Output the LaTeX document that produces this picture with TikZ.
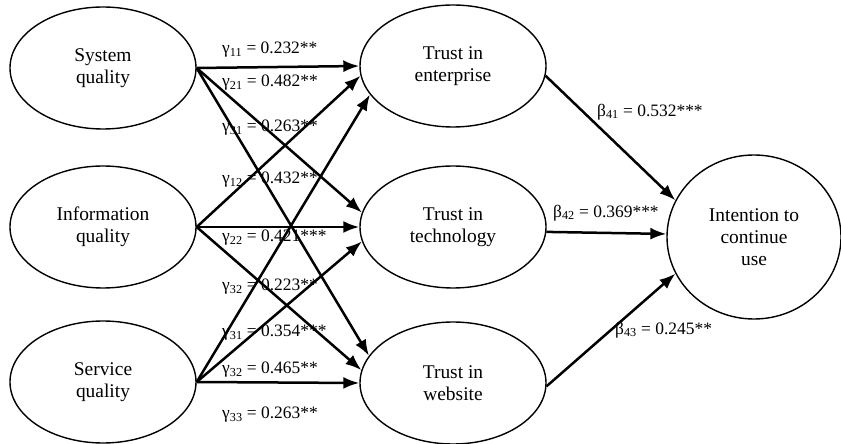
\documentclass[tikz,border=0pt]{standalone}
\usepackage{fontspec}
\setmainfont{Liberation Serif}
\usetikzlibrary{shapes.geometric,arrows.meta}
\newcommand\mygam[1]{γ\textsubscript{#1}}
\newcommand\mybet[1]{β\textsubscript{#1}}
\begin{document}
\begin{tikzpicture}[x=1bp,y=-1bp,
  latent/.style={draw, line width=1.4bp, ellipse, inner sep=0pt,
    minimum width=186bp, minimum height=122bp, align=center,
    font=\fontsize{19.5}{22}\selectfont},
  pathline/.style={line width=2.5bp, -{Latex[length=16bp,width=12bp]}},
  coef/.style={font=\fontsize{17.5}{19}\selectfont, inner sep=0pt, anchor=west}]
\useasboundingbox (0,0) rectangle (841,444);

% exogenous constructs
\node[latent] (sys) at (103,68) {System\\quality};
\node[latent] (inf) at (103,227) {Information\\quality};
\node[latent] (ser) at (103,382) {Service\\quality};

% mediators
\node[latent] (ent) at (453,66) {Trust in\\enterprise};
\node[latent] (tec) at (453,227) {Trust in\\technology};
\node[latent] (web) at (453,383) {Trust in\\website};

% outcome
\node[latent, minimum width=174bp, minimum height=164bp] (int) at (754,237) {Intention to\\continue\\use};

% paths to trust in enterprise
\draw[pathline] (sys.east) -- (ent.180);
\draw[pathline] (inf.east) -- (ent.186);
\draw[pathline] (ser.east) -- (ent.199);
% paths to trust in technology
\draw[pathline] (sys.east) -- (tec.171);
\draw[pathline] (inf.east) -- (tec.180);
\draw[pathline] (ser.east) -- (tec.189);
% paths to trust in website
\draw[pathline] (sys.east) -- (web.162);
\draw[pathline] (inf.east) -- (web.172);
\draw[pathline] (ser.east) -- (web.180);
% paths to intention
\draw[pathline] (ent.354) -- (int.155);
\draw[pathline] (tec.357) -- (int.178);
\draw[pathline] (web.358) -- (int.205);

% coefficients
\node[coef] (g11) at (222,50) {\mygam{11} = 0.232**};
\node[coef] (g21) at (222,83) {\mygam{21} = 0.482**};
\node[coef] (g31a) at (222,128) {\mygam{31} = 0.263**};
\node[coef] (g12) at (222,180) {\mygam{12} = 0.432**};
\node[coef] (g22) at (222,238) {\mygam{22} = 0.421***};
\node[coef] (g32a) at (222,287) {\mygam{32} = 0.223**};
\node[coef] (g31b) at (222,333) {\mygam{31} = 0.354***};
\node[coef] (g32b) at (222,370) {\mygam{32} = 0.465**};
\node[coef] (g33) at (222,415) {\mygam{33} = 0.263**};
\node[coef] (b41) at (597,112) {\mybet{41} = 0.532***};
\node[coef] (b42) at (553,213) {\mybet{42} = 0.369***};
\node[coef] (b43) at (615,330) {\mybet{43} = 0.245**};
\end{tikzpicture}
\end{document}
